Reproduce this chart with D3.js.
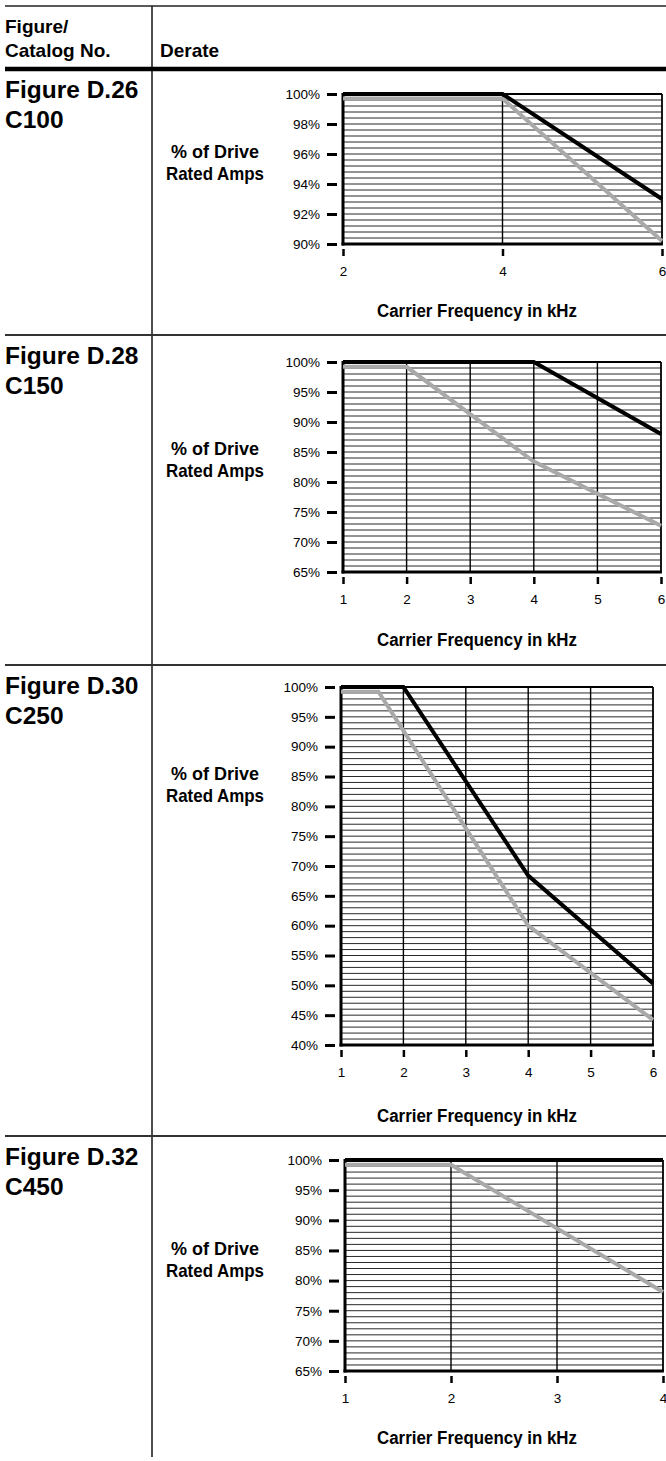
<!DOCTYPE html>
<html><head><meta charset="utf-8">
<script src="https://cdn.jsdelivr.net/npm/d3@7"></script>
<style>body{margin:0;background:#fff}svg{display:block}</style>
</head><body>
<script>
// ---- data ----
const figureLabels = ["Figure D.26", "Figure D.28", "Figure D.30", "Figure D.32"];
const catalogNos = ["C100", "C150", "C250", "C450"];
const xDomains = [[2, 6], [1, 6], [1, 6], [1, 4]];
const yDomains = [[90, 100], [65, 100], [40, 100], [65, 100]];
const xTicks1 = [2, 4, 6];
const xTicks2 = [1, 2, 3, 4, 5, 6];
const xTicks3 = [1, 2, 3, 4, 5, 6];
const xTicks4 = [1, 2, 3, 4];
const yTicks1 = [90, 92, 94, 96, 98, 100];
const yTicks2 = [65, 70, 75, 80, 85, 90, 95, 100];
const yTicks3 = [40, 45, 50, 55, 60, 65, 70, 75, 80, 85, 90, 95, 100];
const yTicks4 = [65, 70, 75, 80, 85, 90, 95, 100];
const gridSteps = [0.4, 1, 1, 1];
const black1 = [[2, 100], [4, 100], [6, 93]];
const gray1 = [[2, 99.7], [4, 99.7], [6, 90.2]];
const black2 = [[1, 100], [4, 100], [6, 88]];
const gray2 = [[1, 99.2], [2, 99.2], [4, 83.4], [6, 72.7]];
const black3 = [[1, 100], [2, 100], [4, 68.4], [6, 50.3]];
const gray3 = [[1, 99.2], [1.6, 99.2], [4, 60], [6, 44.2]];
const black4 = [[1, 100], [4, 100]];
const gray4 = [[1, 99.2], [2, 99.2], [4, 78.1]];
const yTitleLines = ["% of Drive", "Rated Amps"];
const xTitle = "Carrier Frequency in kHz";
const headerLeft = ["Figure/", "Catalog No."];
const headerRight = "Derate";

const xTickSets = [xTicks1, xTicks2, xTicks3, xTicks4];
const yTickSets = [yTicks1, yTicks2, yTicks3, yTicks4];
const blacks = [black1, black2, black3, black4];
const grays = [gray1, gray2, gray3, gray4];

// ---- layout ----
const W = 666, H = 1461;
const boxes = [
  {l: 343, r: 662, t: 94,   b: 244,  sep: 69,   yt: 158,  xt: 317},
  {l: 343, r: 661, t: 362,  b: 572,  sep: 335,  yt: 455,  xt: 646},
  {l: 341, r: 653, t: 687,  b: 1045, sep: 665,  yt: 780,  xt: 1122},
  {l: 345, r: 663, t: 1160, b: 1371, sep: 1136, yt: 1255, xt: 1444}
];
const bold = "'Liberation Sans', Arial, Helvetica, sans-serif";
const narrow = "'Liberation Sans Narrow', 'Arial Narrow', 'Liberation Sans', Arial, sans-serif";

const svg = d3.select("body").append("svg").attr("width", W).attr("height", H);
svg.append("rect").attr("width", W).attr("height", H).attr("fill", "#fff");

// table rules
svg.append("line").attr("x1", 5).attr("x2", W).attr("y1", 6).attr("y2", 6)
  .attr("stroke", "#222").attr("stroke-width", 1.5);
svg.append("line").attr("x1", 152).attr("x2", 152).attr("y1", 6).attr("y2", 1457)
  .attr("stroke", "#222").attr("stroke-width", 1.6);
svg.append("line").attr("x1", 5).attr("x2", W).attr("y1", 69).attr("y2", 69)
  .attr("stroke", "#000").attr("stroke-width", 4.5);
boxes.slice(1).forEach(b => {
  svg.append("line").attr("x1", 5).attr("x2", W).attr("y1", b.sep).attr("y2", b.sep)
    .attr("stroke", "#333").attr("stroke-width", 1.8);
});

// header
svg.append("text").attr("x", 5).attr("y", 33).text(headerLeft[0])
  .attr("font-family", bold).attr("font-weight", "bold").attr("font-size", 19);
svg.append("text").attr("x", 5).attr("y", 57).text(headerLeft[1])
  .attr("font-family", bold).attr("font-weight", "bold").attr("font-size", 19);
svg.append("text").attr("x", 160).attr("y", 57).text(headerRight)
  .attr("font-family", bold).attr("font-weight", "bold").attr("font-size", 19);

boxes.forEach((bx, i) => {
  const g = svg.append("g");
  const x = d3.scaleLinear().domain(xDomains[i]).range([bx.l, bx.r]);
  const y = d3.scaleLinear().domain(yDomains[i]).range([bx.b, bx.t]);

  // figure label
  g.append("text").attr("x", 5).attr("y", bx.sep + 29).text(figureLabels[i])
    .attr("font-family", bold).attr("font-weight", "bold").attr("font-size", 24.5);
  g.append("text").attr("x", 5).attr("y", bx.sep + 59).text(catalogNos[i])
    .attr("font-family", bold).attr("font-weight", "bold").attr("font-size", 24.5);

  // horizontal grid
  const [y0, y1] = yDomains[i];
  const hs = d3.range(y0 + gridSteps[i], y1 - 0.001, gridSteps[i]);
  g.selectAll(".hg").data(hs).join("line")
    .attr("x1", bx.l).attr("x2", bx.r)
    .attr("y1", d => y(d)).attr("y2", d => y(d))
    .attr("stroke", "#111").attr("stroke-width", 0.9);
  // vertical grid
  const vs = xTickSets[i].slice(1, -1);
  g.selectAll(".vg").data(vs).join("line")
    .attr("x1", d => x(d)).attr("x2", d => x(d))
    .attr("y1", bx.t).attr("y2", bx.b)
    .attr("stroke", "#000").attr("stroke-width", 1.4);
  // frame
  g.append("line").attr("x1", bx.l).attr("x2", bx.r).attr("y1", bx.t).attr("y2", bx.t)
    .attr("stroke", "#000").attr("stroke-width", 1.8);
  g.append("line").attr("x1", bx.r).attr("x2", bx.r).attr("y1", bx.t).attr("y2", bx.b)
    .attr("stroke", "#000").attr("stroke-width", 1.8);
  g.append("line").attr("x1", bx.l).attr("x2", bx.l).attr("y1", bx.t - 1).attr("y2", bx.b + 1.5)
    .attr("stroke", "#000").attr("stroke-width", 3);
  g.append("line").attr("x1", bx.l - 1.5).attr("x2", bx.r + 0.9).attr("y1", bx.b).attr("y2", bx.b)
    .attr("stroke", "#000").attr("stroke-width", 3);

  // data lines
  const line = d3.line().x(d => x(d[0])).y(d => y(d[1]));
  g.append("path").attr("d", line(grays[i])).attr("fill", "none")
    .attr("stroke", "#a9a9a9").attr("stroke-width", 4).attr("stroke-linejoin", "miter");
  g.append("path").attr("d", line(blacks[i])).attr("fill", "none")
    .attr("stroke", "#000").attr("stroke-width", 4).attr("stroke-linejoin", "miter");

  // y axis
  const ya = g.append("g").attr("transform", `translate(${bx.l - 6},0)`)
    .call(d3.axisLeft(y).tickValues(yTickSets[i]).tickSize(10).tickPadding(7)
      .tickFormat(d => d + "%"));
  ya.select(".domain").remove();
  ya.selectAll(".tick line").attr("stroke", "#000").attr("stroke-width", 3);
  ya.selectAll(".tick text").attr("font-family", "'Liberation Sans', Arial, sans-serif")
    .attr("font-size", 13.5).attr("fill", "#000");

  // x axis
  const xa = g.append("g").attr("transform", `translate(0,${bx.b + 5})`)
    .call(d3.axisBottom(x).tickValues(xTickSets[i]).tickSize(7).tickPadding(10)
      .tickFormat(d3.format("d")));
  xa.select(".domain").remove();
  xa.selectAll(".tick line").attr("stroke", "#000").attr("stroke-width", 2.5);
  xa.selectAll(".tick text").attr("font-family", "'Liberation Sans', Arial, sans-serif")
    .attr("font-size", 13.5).attr("fill", "#000");

  // y title
  g.append("text").attr("x", 215).attr("y", bx.yt).attr("text-anchor", "middle")
    .attr("font-family", narrow).attr("font-weight", "bold").attr("font-size", 19)
    .attr("textLength", 88).attr("lengthAdjust", "spacingAndGlyphs").text(yTitleLines[0]);
  g.append("text").attr("x", 215).attr("y", bx.yt + 22).attr("text-anchor", "middle")
    .attr("font-family", narrow).attr("font-weight", "bold").attr("font-size", 19)
    .attr("textLength", 98).attr("lengthAdjust", "spacingAndGlyphs").text(yTitleLines[1]);
  // x title
  g.append("text").attr("x", 477).attr("y", bx.xt).attr("text-anchor", "middle")
    .attr("font-family", narrow).attr("font-weight", "bold").attr("font-size", 18)
    .attr("textLength", 200).attr("lengthAdjust", "spacingAndGlyphs").text(xTitle);
});
</script>
</body></html>
